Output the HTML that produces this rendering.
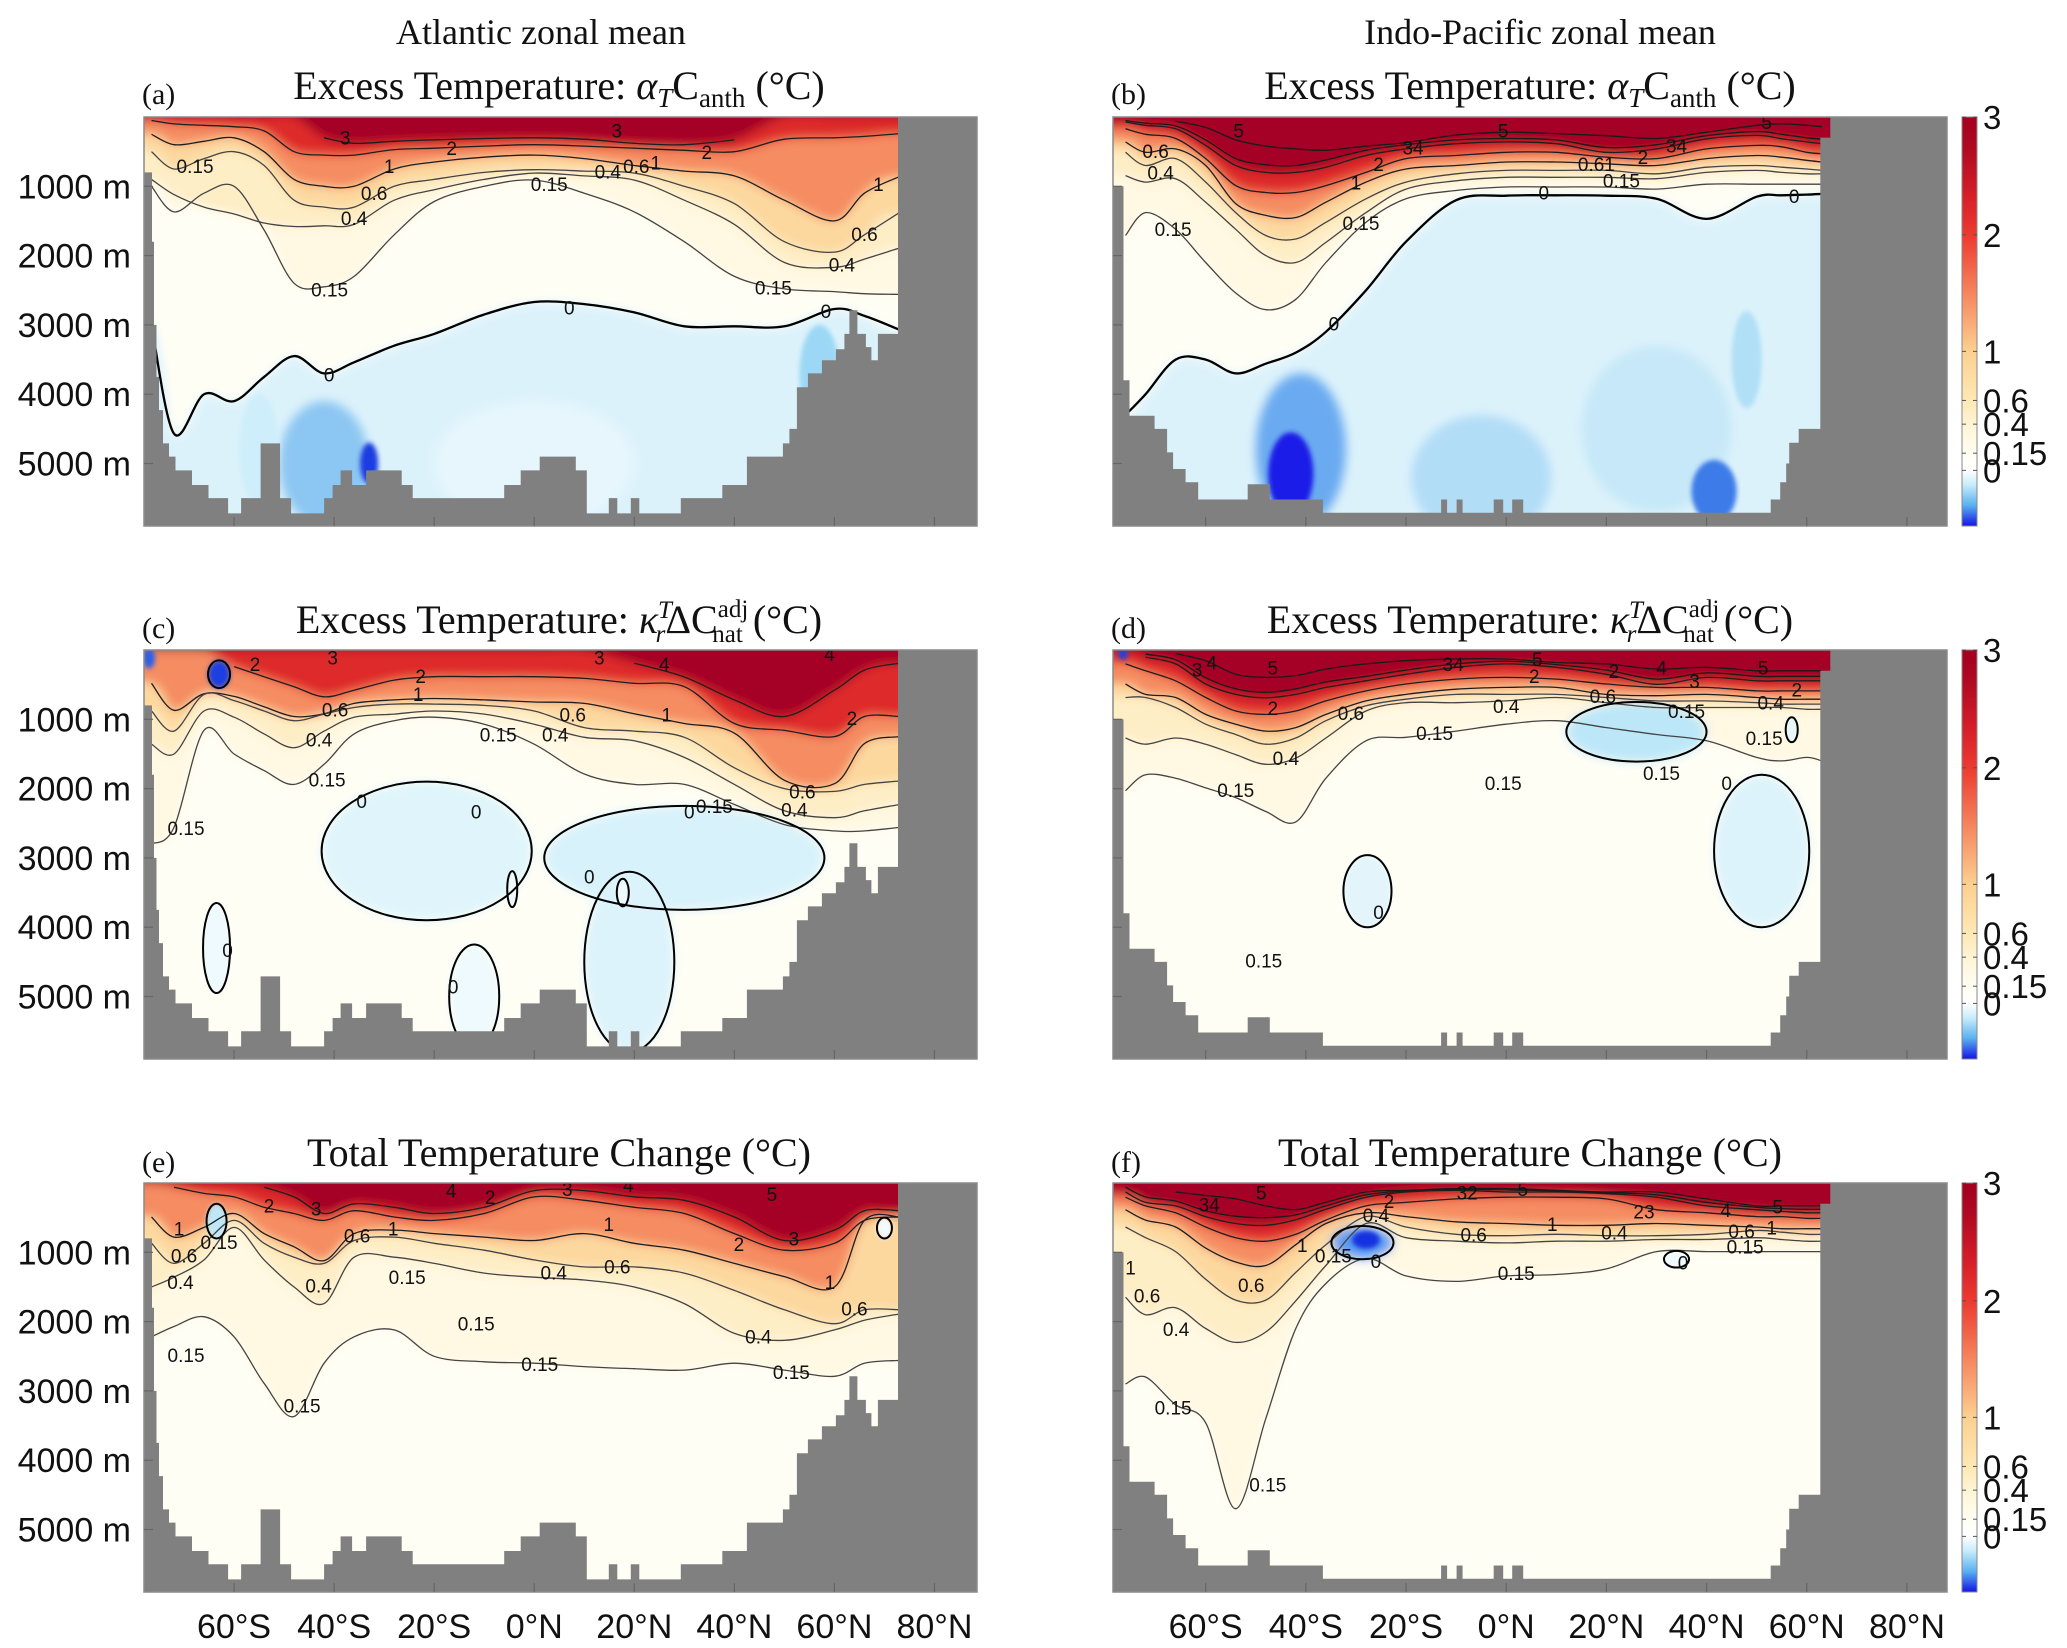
<!DOCTYPE html>
<html><head><meta charset="utf-8">
<style>html,body{margin:0;padding:0;background:#fff}svg{display:block}</style>
</head><body>
<svg id="fig" xmlns="http://www.w3.org/2000/svg" width="2067" height="1648" viewBox="0 0 2067 1648">
<defs>
  <filter id="soft" x="-0.05" y="-0.05" width="1.1" height="1.1"><feGaussianBlur stdDeviation="5"/></filter>
  <filter id="soft2" x="-0.2" y="-0.2" width="1.4" height="1.4"><feGaussianBlur stdDeviation="2.5"/></filter>
  <linearGradient id="cbgrad" x1="0" y1="0" x2="0" y2="1">
    <stop offset="0" stop-color="#a30020"/>
    <stop offset="0.08" stop-color="#b00a22"/>
    <stop offset="0.2" stop-color="#d8202a"/>
    <stop offset="0.288" stop-color="#ec3a30"/>
    <stop offset="0.42" stop-color="#f5805a"/>
    <stop offset="0.573" stop-color="#fcd090"/>
    <stop offset="0.693" stop-color="#fee8b4"/>
    <stop offset="0.751" stop-color="#fff4d4"/>
    <stop offset="0.822" stop-color="#fffdf2"/>
    <stop offset="0.864" stop-color="#ffffff"/>
    <stop offset="0.9" stop-color="#c6ebfa"/>
    <stop offset="0.95" stop-color="#58b0f0"/>
    <stop offset="1" stop-color="#1414e6"/>
  </linearGradient>
</defs>
<g font-family="'Liberation Serif', serif" fill="#111">
  <text x="541" y="44" font-size="36" text-anchor="middle">Atlantic zonal mean</text>
  <text x="1540" y="44" font-size="36" text-anchor="middle">Indo-Pacific zonal mean</text>

  <text x="142" y="104" font-size="30">(a)</text>
  <text x="559" y="99" font-size="40" text-anchor="middle">Excess Temperature:  <tspan font-style="italic">α</tspan><tspan font-style="italic" font-size="27" dy="8">T</tspan><tspan dy="-8">C</tspan><tspan font-size="27" dy="8">anth</tspan><tspan dy="-8"> (°C)</tspan></text>
  <text x="1111" y="104" font-size="30">(b)</text>
  <text x="1530" y="99" font-size="40" text-anchor="middle">Excess Temperature:  <tspan font-style="italic">α</tspan><tspan font-style="italic" font-size="27" dy="8">T</tspan><tspan dy="-8">C</tspan><tspan font-size="27" dy="8">anth</tspan><tspan dy="-8"> (°C)</tspan></text>

  <text x="142" y="638" font-size="30">(c)</text>
  <text x="559" y="633" font-size="40" text-anchor="middle">Excess Temperature:  <tspan font-style="italic">κ</tspan><tspan font-style="italic" font-size="25" dy="-15">T</tspan><tspan font-style="italic" font-size="25" dx="-15" dy="24">r</tspan><tspan dy="-9">ΔC</tspan><tspan font-size="25" dy="-16">adj</tspan><tspan font-size="25" dx="-36" dy="25">nat</tspan><tspan dy="-9">  (°C)</tspan></text>
  <text x="1111" y="638" font-size="30">(d)</text>
  <text x="1530" y="633" font-size="40" text-anchor="middle">Excess Temperature:  <tspan font-style="italic">κ</tspan><tspan font-style="italic" font-size="25" dy="-15">T</tspan><tspan font-style="italic" font-size="25" dx="-15" dy="24">r</tspan><tspan dy="-9">ΔC</tspan><tspan font-size="25" dy="-16">adj</tspan><tspan font-size="25" dx="-36" dy="25">nat</tspan><tspan dy="-9">  (°C)</tspan></text>

  <text x="142" y="1172" font-size="30">(e)</text>
  <text x="559" y="1166" font-size="40" text-anchor="middle">Total Temperature Change (°C)</text>
  <text x="1111" y="1172" font-size="30">(f)</text>
  <text x="1530" y="1166" font-size="40" text-anchor="middle">Total Temperature Change (°C)</text>
</g>
<g id="plots"></g>
</svg>
<script>
// ---------- data ----------
const levelVals = [3, 2, 1, 0.6, 0.4, 0.15, 0];
const bandColors = ['#a50026', '#de2c2c', '#f58c62', '#fcd89f', '#feeec6', '#fff8e2', '#fffef5'];
const negColor = '#dcf2fb';
const latA = [-76.5,-72,-66,-60,-54,-48,-42,-36,-28,-20,-10,0,10,20,30,40,50,60,66,73];
const latP = [-76,-72,-66,-60,-54,-48,-42,-36,-28,-20,-10,0,10,20,30,40,50,55,60,63];
const xTickLats = [-60,-40,-20,0,20,40,60,80];
const xTickLabels = ['60°S','40°S','20°S','0°N','20°N','40°N','60°N','80°N'];
const yTickDepths = [1000,2000,3000,4000,5000];
const yTickLabels = ['1000 m','2000 m','3000 m','4000 m','5000 m'];
const cbTickVals = ['3','2','1','0.6','0.4','0.15','0'];
const cbScaleFrac = [0,0.288,0.573,0.693,0.751,0.822,0.864];

// panel a
const a_L3 = [0,0,0,0,0,0,300,380,350,330,310,300,320,380,400,330,0,0,0,0];
const a_L2 = [50,100,120,140,200,500,550,550,470,450,420,400,420,450,480,500,320,300,280,240];
const a_L1 = [250,400,350,300,500,900,1000,1000,750,650,580,550,600,700,780,850,1200,1500,1100,860];
const a_L06 = [500,750,600,500,700,1200,1300,1300,1000,900,800,760,780,810,1000,1250,1800,1950,1700,1380];
const a_L04 = [900,1120,1300,1400,1530,1580,1570,1550,1200,1050,900,810,850,910,1200,1550,2100,2170,2050,1890];
const a_L015 = [1000,1370,1100,1000,1630,2400,2450,2300,1700,1220,1000,910,1100,1370,1800,2300,2480,2520,2550,2560];
const a_L0 = [3000,4570,4000,4100,3750,3450,3700,3540,3300,3130,2850,2670,2700,2820,3020,3020,3020,2770,2870,3070];
const a_blobLat = [-42,-33,-55,57,0];
const a_blobDep = [5000,5000,4800,3700,5000];
const a_blobRx = [9,1.8,4,4,20];
const a_blobRy = [900,300,800,700,900];
const a_blobCol = ['#8cc6f2','#1c3de0','#cdeefa','#9cd8f5','#e6f6fc'];
const a_blobLine = [0,0,0,0,0];
const a_labLat = [-37.8,16.5,-16.5,34.5,-29,-32,-36,3,14.7,20.4,24.3,68.8,66,61.5,47.8,-40.9,7,58.3,-41,-67.8];
const a_labDep = [320,215,470,525,730,1120,1480,990,810,730,680,990,1710,2150,2480,2510,2770,2820,3740,730];
const a_labTxt = ['3','3','2','2','1','0.6','0.4','0.15','0.4','0.6','1','1','0.6','0.4','0.15','0.15','0','0','0','0.15'];

// panel b
const b_L3 = [70,120,170,410,700,800,800,725,555,460,385,360,385,510,460,315,265,315,360,385];
const b_L4 = [50,90,130,330,600,690,700,620,480,400,330,310,330,440,400,270,210,250,300,320];
const b_L5 = [0,0,60,150,330,420,460,480,420,370,260,220,240,270,310,220,120,100,120,140];
const b_L2 = [170,250,310,600,990,1090,1090,990,800,600,555,510,510,580,600,460,410,430,510,530];
const b_L1 = [360,510,460,700,1250,1420,1450,1230,940,750,700,650,650,675,700,600,555,580,625,650];
const b_L06 = [510,700,600,940,1380,1710,1760,1520,1180,940,820,770,770,770,820,725,700,725,750,770];
const b_L04 = [845,940,890,1230,1620,2000,2100,1810,1380,1040,920,870,870,870,890,800,770,800,820,820];
const b_L015 = [1710,1380,1620,2100,2540,2780,2630,2100,1520,1180,1060,1010,1010,1010,1040,970,970,970,970,970];
const b_L0 = [4300,4000,3500,3500,3700,3560,3400,3100,2500,1800,1200,1135,1130,1135,1180,1470,1150,1130,1120,1110];
const b_blobLat = [-41,-43,41.5,-5,30,48];
const b_blobDep = [4800,5150,5400,5200,4500,3500];
const b_blobRx = [9,4.5,4.5,14,15,3];
const b_blobRy = [1100,600,450,900,1200,700];
const b_blobCol = ['#6aaaf0','#1a1ae8','#3d7be8','#b2ddf7','#c6e8f8','#b0dff6'];
const b_blobLine = [0,0,0,0,0,0];
const b_labLat = [-53.4,-0.6,52,-18.6,34,-25.5,27.3,-30,18,23,7.5,57.5,-34.4,-66.5,-29,-69,-70];
const b_labDep = [217,217,97,460,435,700,600,965,700,940,1110,1160,3000,1640,1550,820,510];
const b_labTxt = ['5','5','5','34','34','2','2','1','0.61','0.15','0','0','0','0.15','0.15','0.4','0.6'];

// panel c
const c_L3 = [0,0,0,0,0,0,0,0,0,0,0,0,0,190,390,720,960,580,290,190];
const c_L2 = [0,0,0,240,385,530,675,580,435,385,385,385,410,480,530,1060,1160,1250,960,960];
const c_L1 = [480,870,630,670,820,960,920,770,720,700,720,750,770,920,1060,1200,1880,1930,1350,1250];
const c_L06 = [880,1170,640,730,880,1020,925,830,780,780,800,880,1120,1170,1260,1700,2000,2040,1940,1890];
const c_L04 = [1360,1500,880,970,1210,1410,1170,970,925,880,925,1070,1260,1310,1550,1940,2320,2420,2320,2230];
const c_L015 = [2800,2560,1160,1500,1740,1940,1650,1210,1020,970,1070,1360,1790,1940,1940,2230,2520,2610,2610,2560];
const c_blobLat = [-21.5,30,19,-63.5,-12,-63,-77,-4.4,17.7];
const c_blobDep = [2900,3000,4500,4300,5000,350,120,3450,3500];
const c_blobRx = [21,28,9,2.7,5,2.2,1.2,1,1.2];
const c_blobRy = [1000,750,1300,650,750,200,150,260,200];
const c_blobCol = ['#dff5fb','#d8f2fb','#dcf3fb','#eefafd','#eefafd','#1a3fe0','#2a60e8','#eefafd','#eefafd'];
const c_blobLine = [1,1,1,1,1,1,0,1,1];
const c_labLat = [-40.3,13,-55.8,-22.7,-23.2,-39.8,-43,-41.4,-7.2,7.7,4.2,53.6,52,36,26.5,63.5,-69.6,-34.5,-11.6,31,11,-61.3,-16.2,26,59];
const c_labDep = [130,130,225,395,660,880,1310,1890,1240,950,1240,2060,2320,2270,950,1000,2590,2200,2350,2350,3290,4350,4880,225,80];
const c_labTxt = ['3','3','2','2','1','0.6','0.4','0.15','0.15','0.6','0.4','0.6','0.4','0.15','1','2','0.15','0','0','0','0','0','0','4','4'];

// panel d
const d_L3 = [10,105,200,490,640,690,640,540,445,350,250,200,250,350,495,395,445,445,445,445];
const d_L4 = [0,60,140,400,560,610,560,460,380,290,200,160,210,290,420,330,380,380,380,380];
const d_L5 = [0,0,50,155,350,395,370,275,200,155,130,130,180,200,275,250,300,300,300,300];
const d_L2 = [200,300,445,685,880,930,880,735,590,490,420,395,420,490,540,540,590,590,590,590];
const d_L1 = [490,640,685,930,1070,1170,1120,930,735,640,565,540,540,640,660,640,685,710,710,710];
const d_L06 = [685,685,830,1070,1220,1360,1270,1020,805,710,640,640,640,685,735,735,760,780,780,780];
const d_L04 = [1270,1360,1270,1360,1510,1650,1560,1270,880,760,760,735,685,760,830,830,830,830,855,855];
const d_L015 = [2030,1800,1850,1990,2130,2330,2480,1850,1310,1260,1170,1070,1020,1120,1220,1310,1550,1600,1550,1600];
const d_blobLat = [26,51,-27.7,57,-76.5];
const d_blobDep = [1180,2900,3480,1150,60];
const d_blobRx = [14,9.5,4.8,1.2,1];
const d_blobRy = [430,1100,520,180,80];
const d_blobCol = ['#bce7f8','#dcf3fb','#e3f5fb','#e6f6fb','#2040e0'];
const d_blobLine = [1,1,1,1,0];
const d_labLat = [-46.6,-10.6,6.2,5.6,21.5,31,37.6,51.3,58,-61.7,-58.8,-46.6,-31,-44,-14.3,0,19.3,36,31,51.5,52.8,-54,-0.6,-25.5,44,-48.4];
const d_labDep = [275,225,155,395,325,275,470,275,590,300,200,855,930,1580,1220,830,685,900,1800,1290,780,2040,1940,3800,1940,4500];
const d_labTxt = ['5','34','5','2','2','4','3','5','2','3','4','2','0.6','0.4','0.15','0.4','0.6','0.15','0.15','0.15','0.4','0.15','0.15','0','0','0.15'];

// panel e
const e_L3 = [0,0,0,0,60,200,440,300,350,440,350,110,110,200,250,490,830,680,400,400];
const e_L2 = [10,60,150,200,350,440,540,400,490,540,440,200,250,350,440,730,970,870,540,490];
const e_L1 = [490,780,640,440,730,920,1120,730,680,730,780,830,730,870,970,1160,1350,1500,540,490];
const e_L06 = [870,1160,870,540,870,1070,1160,830,780,870,970,1110,1210,1210,1300,1550,1830,2030,1830,1830];
const e_L04 = [1500,1360,1110,640,1110,1500,1740,1070,1070,1160,1300,1360,1400,1500,1740,2170,2270,2120,1980,1890];
const e_L015 = [2220,2070,1930,2220,2890,3370,2600,2220,2120,2500,2580,2600,2650,2680,2700,2600,2700,2790,2600,2560];
const e_blobLat = [-63.5,70];
const e_blobDep = [550,650];
const e_blobRx = [2,1.5];
const e_blobRy = [250,150];
const e_blobCol = ['#bde8f8','#f4fbfd'];
const e_blobLine = [1,1];
const e_labLat = [-43.6,-53,-16.6,6.6,18.8,-8.8,-28.2,-35.4,-43.1,-25.4,-11.6,3.9,16.6,14.9,1.1,44.8,51.4,64,59.1,40.9,51.9,47.5,-69.6,-46.4,-70,-70.7,-71,-63];
const e_labDep = [390,345,130,105,50,225,680,780,1500,1380,2050,1310,1230,610,2630,2240,2750,1830,1450,900,825,180,2500,3230,1070,1450,680,870];
const e_labTxt = ['3','2','4','3','4','2','1','0.6','0.4','0.15','0.15','0.4','0.6','1','0.15','0.4','0.15','0.6','1','2','3','5','0.15','0.15','0.6','0.4','1','0.15'];

// panel f
const f_L3 = [130,280,330,485,585,610,530,380,205,130,105,130,130,155,205,330,385,410,430,430];
const f_L4 = [60,200,260,400,480,500,460,330,170,115,90,100,115,140,170,280,350,370,380,380];
const f_L5 = [0,0,130,180,230,330,385,280,130,105,80,80,105,130,130,230,330,330,330,330];
const f_L2 = [205,330,430,635,790,840,740,535,330,280,230,205,205,230,385,430,485,485,510,510];
const f_L1 = [385,535,635,940,1140,1190,890,585,430,485,560,585,610,610,585,610,635,660,660,660];
const f_L06 = [635,790,990,1390,1690,1690,1290,890,485,635,740,760,740,760,760,740,685,710,740,740];
const f_L04 = [1650,1900,1800,2100,2300,2150,1700,1190,585,790,840,865,840,840,815,815,790,815,840,840];
const f_L015 = [2900,2800,3200,3460,4700,3400,2100,1450,1090,1340,1420,1340,1320,1240,990,990,990,990,990,990];
const f_blobLat = [-28.7,-28,34];
const f_blobDep = [860,820,1100];
const f_blobRx = [6.2,2.8,2.5];
const f_blobRy = [240,130,120];
const f_blobCol = ['#5a9cf0','#1530e0','#f0fafd'];
const f_blobLine = [1,0,1];
const f_labLat = [-48.9,-59.3,-7.8,3.3,-23.4,-26,9.2,-6.5,27.5,43.8,54.2,21.6,47,53,47.7,2,-40.7,-50.9,-65.9,-71.7,-34.5,-26,35.3,-66.5,-47.6,-75];
const f_labDep = [157,333,157,106,283,485,611,763,434,409,359,737,712,661,939,1318,914,1495,2126,1646,1066,1150,1167,3262,4373,1242];
const f_labTxt = ['5','34','32','5','2','0.4','1','0.6','23','4','5','0.4','0.6','1','0.15','0.15','1','0.6','0.4','0.6','0.15','0','0','0.15','0.15','1'];

// bathymetry (step edges in latitude, depth in metres for each interval)
const bathyEdgeA = [-78.5,-76.4,-76,-75.5,-75,-74.2,-73,-71.7,-68.4,-65.1,-61.2,-58.6,-54.7,-50.8,-48.6,-42,-40.3,-38.7,-36.4,-33.6,-26.5,-24.3,-6,-2.7,1.1,8.3,10.5,14.9,16.6,19.3,21,29.3,37.6,42.5,49.7,51,52.5,54.7,57.5,60.3,62,63,64.6,66.3,67.4,68.7,71.3,72.7,88.5];
const bathyDepA = [800,1800,3000,3750,4230,4710,4900,5100,5310,5500,5720,5500,4710,5500,5720,5500,5310,5100,5310,5100,5310,5500,5310,5100,4900,5100,5720,5500,5720,5500,5720,5500,5310,4900,4710,4500,3900,3700,3510,3350,3130,2790,3130,3320,3510,3130,3130,0];
const bathyEdgeP = [-78.5,-76.4,-75.2,-73.9,-70.2,-67.7,-66.5,-64,-61.5,-57.8,-51.6,-47.2,-36.6,-13,-11.8,-9.9,-8.7,-2.5,-0.6,1.2,3.4,52.8,54.7,55.9,56.5,58.4,62.7,64.7,88.5];
const bathyDepP = [1000,3800,4310,4310,4500,4840,5080,5270,5520,5520,5300,5520,5710,5520,5710,5520,5710,5520,5710,5520,5710,5520,5270,5000,4700,4500,300,0];

// ---------- rendering ----------
const NS = 'http://www.w3.org/2000/svg';
const PANEL_H = 409, PX_PER_M = 0.0693;
const root = document.getElementById('plots');
function mk(tag, attrs, parent) {
  const el = document.createElementNS(NS, tag);
  for (const k in attrs) el.setAttribute(k, attrs[k]);
  (parent || root).appendChild(el);
  return el;
}
function smoothPath(pts) {
  let d = 'M' + pts[0][0].toFixed(1) + ',' + pts[0][1].toFixed(1);
  for (let i = 0; i < pts.length - 1; i++) {
    const p0 = pts[i - 1] || pts[i], p1 = pts[i], p2 = pts[i + 1], p3 = pts[i + 2] || pts[i + 1];
    const c1 = [p1[0] + (p2[0] - p0[0]) / 6, p1[1] + (p2[1] - p0[1]) / 6];
    const c2 = [p2[0] - (p3[0] - p1[0]) / 6, p2[1] - (p3[1] - p1[1]) / 6];
    d += 'C' + c1[0].toFixed(1) + ',' + c1[1].toFixed(1) + ' ' + c2[0].toFixed(1) + ',' + c2[1].toFixed(1) + ' ' + p2[0].toFixed(1) + ',' + p2[1].toFixed(1);
  }
  return d;
}

const ATL = {x0:144, w:833, lat0:-78, ppd:833/166.5};
const PAC = {x0:1113, w:834, lat0:-78.5, ppd:834/166.5};
const panels = [
  {id:'a', geo:ATL, y0:117, grid:latA, lv:[a_L3,a_L2,a_L1,a_L06,a_L04,a_L015,a_L0], extra:[], be:bathyEdgeA, bd:bathyDepA,
   bl:[a_blobLat,a_blobDep,a_blobRx,a_blobRy,a_blobCol,a_blobLine], lb:[a_labLat,a_labDep,a_labTxt], yl:true, xl:false},
  {id:'b', geo:PAC, y0:117, grid:latP, lv:[b_L3,b_L2,b_L1,b_L06,b_L04,b_L015,b_L0], extra:[b_L4,b_L5], be:bathyEdgeP, bd:bathyDepP,
   bl:[b_blobLat,b_blobDep,b_blobRx,b_blobRy,b_blobCol,b_blobLine], lb:[b_labLat,b_labDep,b_labTxt], yl:false, xl:false},
  {id:'c', geo:ATL, y0:650, grid:latA, lv:[c_L3,c_L2,c_L1,c_L06,c_L04,c_L015,null], extra:[], be:bathyEdgeA, bd:bathyDepA,
   bl:[c_blobLat,c_blobDep,c_blobRx,c_blobRy,c_blobCol,c_blobLine], lb:[c_labLat,c_labDep,c_labTxt], yl:true, xl:false},
  {id:'d', geo:PAC, y0:650, grid:latP, lv:[d_L3,d_L2,d_L1,d_L06,d_L04,d_L015,null], extra:[d_L4,d_L5], be:bathyEdgeP, bd:bathyDepP,
   bl:[d_blobLat,d_blobDep,d_blobRx,d_blobRy,d_blobCol,d_blobLine], lb:[d_labLat,d_labDep,d_labTxt], yl:false, xl:false},
  {id:'e', geo:ATL, y0:1183, grid:latA, lv:[e_L3,e_L2,e_L1,e_L06,e_L04,e_L015,null], extra:[], be:bathyEdgeA, bd:bathyDepA,
   bl:[e_blobLat,e_blobDep,e_blobRx,e_blobRy,e_blobCol,e_blobLine], lb:[e_labLat,e_labDep,e_labTxt], yl:true, xl:true},
  {id:'f', geo:PAC, y0:1183, grid:latP, lv:[f_L3,f_L2,f_L1,f_L06,f_L04,f_L015,null], extra:[f_L4,f_L5], be:bathyEdgeP, bd:bathyDepP,
   bl:[f_blobLat,f_blobDep,f_blobRx,f_blobRy,f_blobCol,f_blobLine], lb:[f_labLat,f_labDep,f_labTxt], yl:false, xl:true}
];

const defs = document.querySelector('defs');
panels.forEach(p => {
  const g0 = p.geo;
  const xS = lat => g0.x0 + (lat - g0.lat0) * g0.ppd;
  const yS = dep => p.y0 + dep * PX_PER_M;
  const x1 = g0.x0 + g0.w, y1 = p.y0 + PANEL_H;

  const cp = mk('clipPath', {id: 'clip-' + p.id}, defs);
  
  
  const cr = mk('rect', {x: g0.x0, y: p.y0, width: g0.w, height: PANEL_H}, cp);
  
  

  const pg = mk('g', {'clip-path': 'url(#clip-' + p.id + ')'});
  
  

  const bg = mk('rect', {x: g0.x0, y: p.y0, width: g0.w, height: PANEL_H, fill: p.lv[6] ? negColor : bandColors[6]}, pg);
  
  

  const soft = mk('g', {filter: 'url(#soft)'}, pg);
  
  

  for (let i = 6; i >= 0; i--) {
    const arr = p.lv[i];
    if (!arr) continue;
    const pts = p.grid.map((lat, k) => [xS(lat), yS(arr[k])]);
    const n = pts.length;
    const full = [[xS(p.grid[0] - 12), pts[0][1]]].concat(pts, [[xS(p.grid[n - 1] + 25), pts[n - 1][1]]]);
    const d = smoothPath(full) + 'L' + (x1 + 200) + ',' + (p.y0 - 80) + 'L' + (g0.x0 - 200) + ',' + (p.y0 - 80) + 'Z';
    const band = mk('path', {d: d, fill: bandColors[i]}, soft);
    
    
  }
  const soft2 = mk('g', {filter: 'url(#soft2)'}, pg);
  
  
  const [bLat, bDep, bRx, bRy, bCol, bLine] = p.bl;
  bLat.forEach((lat, k) => {
    const big = bRx[k] * g0.ppd > 25;
    const el = mk('ellipse', {cx: xS(lat), cy: yS(bDep[k]), rx: bRx[k] * g0.ppd, ry: bRy[k] * PX_PER_M, fill: bCol[k]}, big ? soft : soft2);
    
    
  });

  const drawLine = (arr, stroke, sw, name) => {
    let run = [];
    const flush = () => {
      if (run.length > 1) {
        const ln = mk('path', {d: smoothPath(run), fill: 'none', stroke: stroke, 'stroke-width': sw, 'stroke-linejoin': 'round'}, pg);
        
        
      }
      run = [];
    };
    p.grid.forEach((lat, k) => {
      if (arr[k] > 15 && arr[k] < 6000) run.push([xS(lat), yS(arr[k])]); else flush();
    });
    flush();
  };
  p.extra.forEach((arr, k) => drawLine(arr, '#1a1a1a', 1.3, 'contour-line-' + (k + 4)));
  for (let i = 0; i < 7; i++) {
    if (!p.lv[i]) continue;
    if (i === 6) drawLine(p.lv[i], '#000', 2.3, 'contour-line-0');
    else drawLine(p.lv[i], i < 3 ? '#1e1e1e' : '#444', 1.3, 'contour-line-' + levelVals[i]);
  }
  bLat.forEach((lat, k) => {
    if (!bLine[k]) return;
    const el = mk('ellipse', {cx: xS(lat), cy: yS(bDep[k]), rx: bRx[k] * g0.ppd, ry: bRy[k] * PX_PER_M, fill: 'none', stroke: '#000', 'stroke-width': 2}, pg);
    
    
  });

  const [lLat, lDep, lTxt] = p.lb;
  lLat.forEach((lat, k) => {
    const t = mk('text', {x: xS(lat), y: yS(lDep[k]), 'font-family': "'Liberation Sans', sans-serif", 'font-size': 19, fill: '#111', 'text-anchor': 'middle', 'dominant-baseline': 'central'}, pg);
    t.textContent = lTxt[k];
    
    
  });

  let bd = 'M' + xS(p.be[0]) + ',' + (y1 + 10);
  for (let k = 0; k < p.bd.length; k++) {
    const yy = yS(p.bd[k]);
    bd += 'L' + xS(p.be[k]).toFixed(1) + ',' + yy.toFixed(1) + 'L' + xS(p.be[k + 1]).toFixed(1) + ',' + yy.toFixed(1);
  }
  bd += 'L' + xS(p.be[p.be.length - 1]) + ',' + (y1 + 10) + 'Z';
  const land = mk('path', {d: bd, fill: '#808080'}, pg);
  
  

  const frame = mk('rect', {x: g0.x0, y: p.y0, width: g0.w, height: PANEL_H, fill: 'none', stroke: '#8a8a8a', 'stroke-width': 1.5});
  
  
  xTickLats.forEach((lat, k) => {
    const tk = mk('line', {x1: xS(lat), x2: xS(lat), y1: y1, y2: y1 - 9, stroke: '#666', 'stroke-width': 1.2});
    
    
    if (p.xl) {
      const t = mk('text', {x: xS(lat), y: 1638, 'font-family': "'Liberation Sans', sans-serif", 'font-size': 34, fill: '#111', 'text-anchor': 'middle'});
      t.textContent = xTickLabels[k];
      
      
    }
  });
  yTickDepths.forEach((dep, k) => {
    const tk = mk('line', {x1: g0.x0, x2: g0.x0 + 9, y1: yS(dep), y2: yS(dep), stroke: '#666', 'stroke-width': 1.2});
    
    
    if (p.yl) {
      const t = mk('text', {x: 131, y: yS(dep) + 12, 'font-family': "'Liberation Sans', sans-serif", 'font-size': 34, fill: '#111', 'text-anchor': 'end'});
      t.textContent = yTickLabels[k];
      
      
    }
  });

  if (g0 === PAC) {
    const cb = mk('rect', {x: 1962, y: p.y0, width: 15, height: PANEL_H, fill: 'url(#cbgrad)', stroke: '#888', 'stroke-width': 1});
    
    
    cbTickVals.forEach((v, k) => {
      const yy = p.y0 + cbScaleFrac[k] * PANEL_H;
      const tk = mk('line', {x1: 1962, x2: 1966, y1: yy, y2: yy, stroke: '#555', 'stroke-width': 1});
      
      
      const tk2 = mk('line', {x1: 1973, x2: 1977, y1: yy, y2: yy, stroke: '#555', 'stroke-width': 1});
      
      
      const t = mk('text', {x: 1983, y: yy + 12, 'font-family': "'Liberation Sans', sans-serif", 'font-size': 33, fill: '#111'});
      t.textContent = v;
      
      
    });
  }
});
</script>
</body></html>
